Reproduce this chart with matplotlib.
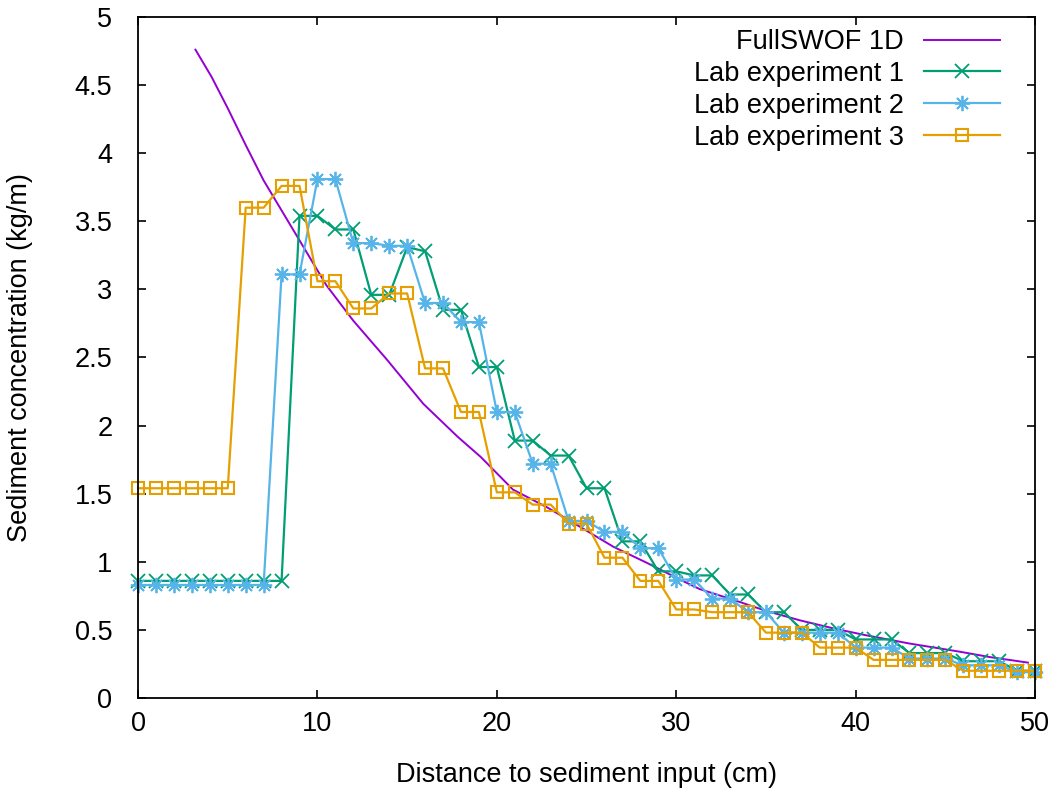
import matplotlib.pyplot as plt
from matplotlib.ticker import FormatStrFormatter, MultipleLocator

plt.rcParams["font.family"] = ["Liberation Sans", "DejaVu Sans"]

# FullSWOF 1D simulation
swof_x = [3.2, 4.1, 5.0, 6.0, 7.0, 8.0, 9.0, 10.5, 12.0, 13.9, 15.9,
          17.8, 19.1, 20.9, 22.8, 24.6, 26.5, 28.4, 30.2, 31.3, 33.2, 35.0,
          36.9, 38.8, 40.6, 43.0, 45.8, 47.5, 49.6]
swof_y = [4.76, 4.56, 4.33, 4.06, 3.80, 3.58, 3.36, 3.03, 2.77, 2.48,
          2.16, 1.92, 1.77, 1.53, 1.40, 1.26, 1.11, 0.99, 0.87, 0.80, 0.72, 0.64,
          0.57, 0.51, 0.46, 0.40, 0.34, 0.30, 0.26]

# lab measurements, one every cm
lab_x = list(range(51))
lab1 = [0.86, 0.86, 0.86, 0.86, 0.86, 0.86, 0.86, 0.86, 0.86,
        3.54, 3.54, 3.44, 3.44, 2.96, 2.96, 3.31, 3.28, 2.85, 2.85, 2.43,
        2.43, 1.89, 1.89, 1.78, 1.78, 1.54, 1.54, 1.15, 1.15, 0.93,
        0.93, 0.90, 0.90, 0.76, 0.76, 0.63, 0.63, 0.50, 0.50, 0.50,
        0.43, 0.43, 0.43, 0.33, 0.33, 0.33, 0.27, 0.27, 0.27, 0.20, 0.20]
lab2 = [0.83, 0.83, 0.83, 0.83, 0.83, 0.83, 0.83, 0.83,
        3.11, 3.11, 3.81, 3.81, 3.34, 3.34, 3.32, 3.32, 2.90, 2.90, 2.76, 2.76,
        2.10, 2.10, 1.72, 1.72, 1.30, 1.30, 1.22, 1.22, 1.10, 1.10,
        0.87, 0.87, 0.73, 0.73, 0.63, 0.63, 0.48, 0.48, 0.48, 0.48,
        0.37, 0.37, 0.37, 0.29, 0.29, 0.29, 0.24, 0.24, 0.24, 0.19, 0.19]
lab3 = [1.54, 1.54, 1.54, 1.54, 1.54, 1.54,
        3.60, 3.60, 3.76, 3.76, 3.06, 3.06, 2.86, 2.86, 2.97, 2.97, 2.42, 2.42,
        2.10, 2.10, 1.51, 1.51, 1.42, 1.42, 1.28, 1.28, 1.03, 1.03, 0.86, 0.86,
        0.65, 0.65, 0.63, 0.63, 0.63, 0.48, 0.48, 0.48, 0.37, 0.37,
        0.37, 0.28, 0.28, 0.28, 0.28, 0.28, 0.20, 0.20, 0.20, 0.20, 0.20]

fig = plt.figure(figsize=(10.49, 7.94), dpi=100)
ax = fig.add_axes([0.1316, 0.1209, 0.8551, 0.8577])

ax.plot(swof_x, swof_y, color="#9400d3", lw=1.4, label="FullSWOF 1D")
ax.plot(lab_x, lab1, color="#009e73", lw=1.6, marker="x", ms=10, mew=1.3,
        label="Lab experiment 1", clip_on=False)
ax.plot(lab_x, lab2, color="#56b4e9", lw=1.6, marker=(8, 2, 0), ms=11, mew=1.3,
        label="Lab experiment 2", clip_on=False)
ax.plot(lab_x, lab3, color="#e69f00", lw=1.6, marker="s", ms=8, mew=1.5,
        mfc="none", label="Lab experiment 3", clip_on=False)

ax.set_xlim(0, 50)
ax.set_ylim(0, 5)
ax.xaxis.set_major_locator(MultipleLocator(10))
ax.yaxis.set_major_locator(MultipleLocator(0.5))
ax.yaxis.set_major_formatter(FormatStrFormatter("%g"))

ax.tick_params(direction="in", length=6, width=1.2, top=True, right=True,
               labelsize=19.5, colors="black")
ax.tick_params(axis="y", pad=18.5)
ax.tick_params(axis="x", pad=9)
for s in ax.spines.values():
    s.set_linewidth(1.3)

ax.set_xlabel("Distance to sediment input (cm)", fontsize=19.5, va="center")
ax.set_ylabel("Sediment concentration (kg/m)", fontsize=19.5, va="center")
ax.xaxis.set_label_coords(0.5, -0.113)
ax.yaxis.set_label_coords((20 - 138) / 897, 0.5)

ax.legend(loc="upper right", bbox_to_anchor=(1000 / 1049, 765 / 794),
          bbox_transform=fig.transFigure, frameon=False, markerfirst=False,
          fontsize=19.5, numpoints=1, borderpad=0, borderaxespad=0,
          labelspacing=0.22, handlelength=2.8, handletextpad=0.75)

fig.savefig("out.png", dpi=100)
